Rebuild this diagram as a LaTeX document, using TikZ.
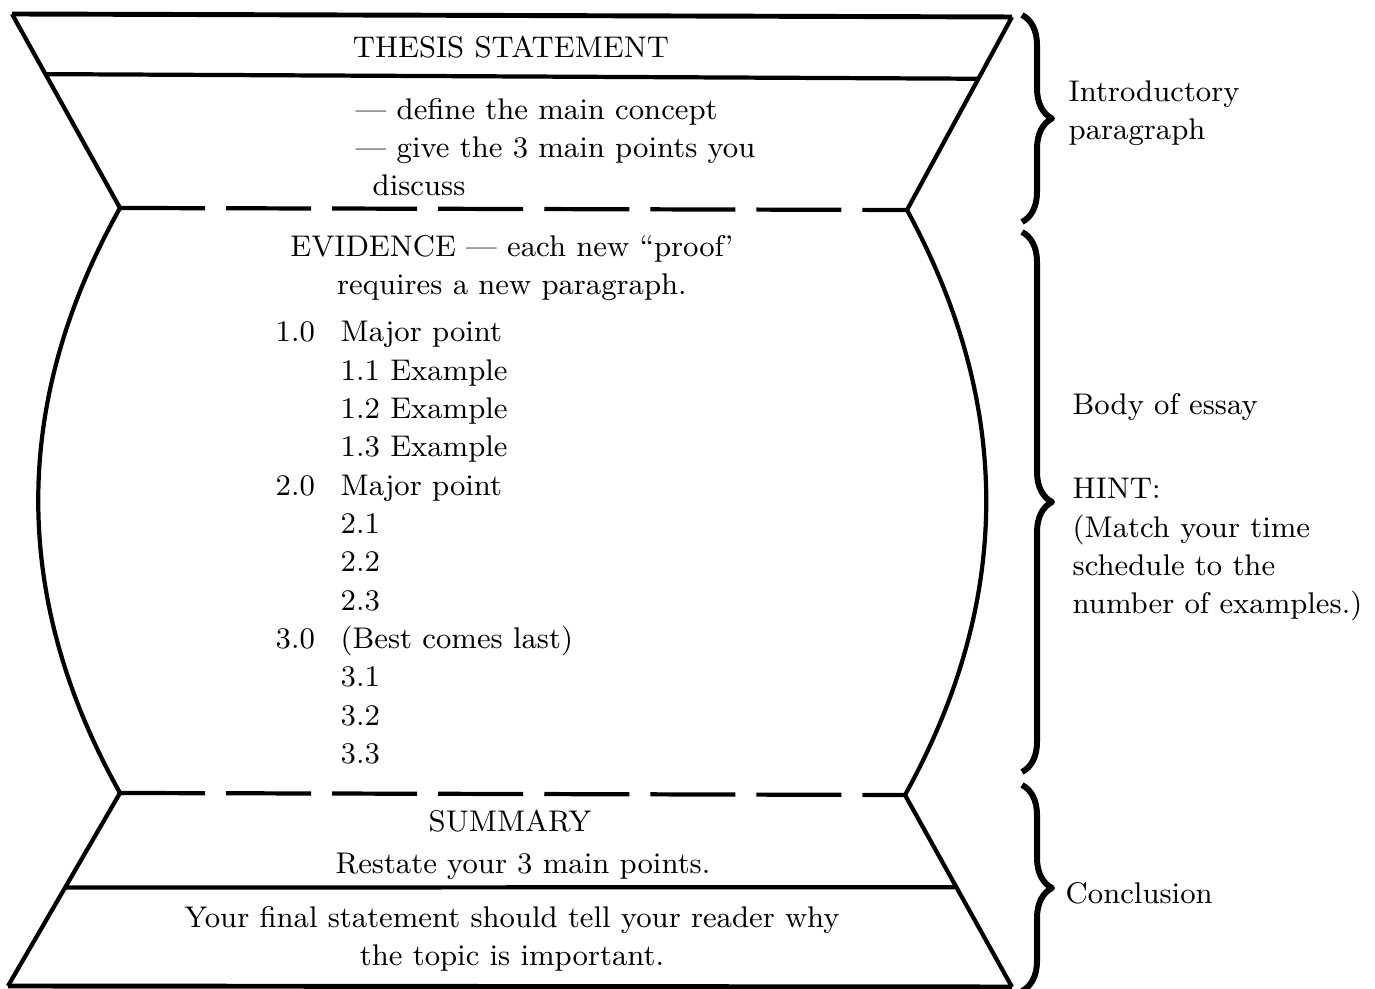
\documentclass[tikz,border=0pt]{standalone}
\usepackage{tikz}
\usetikzlibrary{positioning,calc,decorations.pathreplacing}

\begin{document}
\begin{tikzpicture}[x=0.01cm, y=-0.01cm, line join=round,
		outline/.style={line width=1.2pt},
		rim/.style={line width=1.4pt},
		divider/.style={line width=1.2pt, dash pattern=on 0.85cm off 0.21cm},
		bracket/.style={decorate, decoration={brace, amplitude=0.3cm}, line width=1.7pt},
		txt/.style={font=\fontsize{8.5}{10.9}\selectfont, inner sep=0pt},
		side/.style={txt, anchor=west, align=left}]
		\useasboundingbox (0,0) rectangle (1375,989);

		% corners of the hourglass
		\coordinate (tl) at (12,14);
		\coordinate (tr) at (1012,17);
		\coordinate (ml) at (120,208);
		\coordinate (mr) at (907,210);
		\coordinate (nl) at (120,793);
		\coordinate (nr) at (905,795);
		\coordinate (bl) at (8,986);
		\coordinate (br) at (1012,987);

		% introduction
		\draw[rim] (tl) -- (tr);
		\draw[outline] (ml) -- (tl) (tr) -- (mr);
		\draw[outline] ($(tl)!0.31!(ml)$) -- ($(tr)!0.32!(mr)$);
		\draw[divider] (ml) -- (mr);

		% body
		\draw[outline] (ml) .. controls (11,403) and (11,598) .. (nl);
		\draw[outline] (mr) .. controls (1013,405) and (1013,600) .. (nr);
		\draw[divider] (nl) -- (nr);

		% conclusion
		\draw[outline] (nl) -- (bl) (br) -- (nr);
		\draw[rim] (bl) -- (br);
		\draw[outline] ($(nl)!0.49!(bl)$) -- ($(nr)!0.48!(br)$);

		\node[txt] (thesis) at (511,47) {THESIS STATEMENT};
		\node[txt, anchor=west, align=left] (define) at (355,147)
		{--- define the main concept\\ --- give the 3 main points you\\ \hspace{0.17cm}discuss};

		\node[txt, align=center] (evidence) at (512,268)
		{EVIDENCE --- each new ``proof'\\ requires a new paragraph.};
		\node[txt, anchor=west] (points) at (275,545) {%
			\begin{tabular}{@{}p{0.65cm}@{}l@{}}
				1.0 & Major point\\
				    & 1.1 Example\\
				    & 1.2 Example\\
				    & 1.3 Example\\
				2.0 & Major point\\
				    & 2.1\\
				    & 2.2\\
				    & 2.3\\
				3.0 & (Best comes last)\\
				    & 3.1\\
				    & 3.2\\
				    & 3.3
			\end{tabular}};

		\node[txt] (summary) at (510,821) {SUMMARY};
		\node[txt] (restate) at (523,866) {Restate your 3 main points.};
		\node[txt, align=center] (final) at (512,939)
		{Your final statement should tell your reader why\\ the topic is important.};

		% braces and their labels
		\draw[bracket] (1022,15) -- (1022,222);
		\draw[bracket] (1022,232) -- (1022,772);
		\draw[bracket] (1022,785) -- (1022,991);
		\node[side] (intro) at (1068,113) {Introductory\\ paragraph};
		\node[side] (body) at (1072,407) {Body of essay};
		\node[side] (hint) at (1072,550)
		{HINT:\\ (Match your time\\ schedule to the\\ number of examples.)};
		\node[side] (concl) at (1065,893) {Conclusion};
	\end{tikzpicture}
\end{document}
